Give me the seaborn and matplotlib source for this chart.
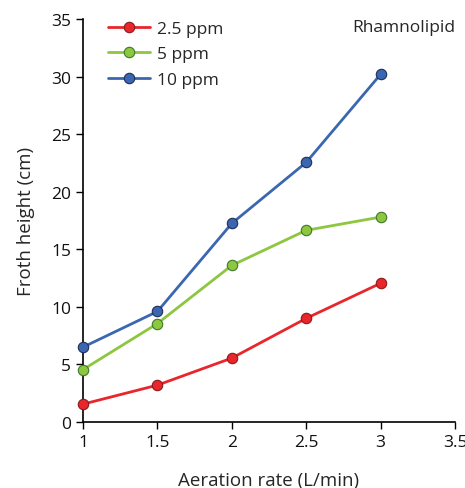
import matplotlib
matplotlib.use('Agg')
import matplotlib.pyplot as plt
import seaborn as sns
import pandas as pd

rate = [1, 1.5, 2, 2.5, 3]
h_25 = [1.55, 3.2, 5.55, 9.0, 12.05]
h_5 = [4.55, 8.55, 13.6, 16.65, 17.8]
h_10 = [6.5, 9.6, 17.25, 22.55, 30.2]
labels = ['2.5 ppm', '5 ppm', '10 ppm']

df = pd.DataFrame({
    'rate': rate * 3,
    'height': h_25 + h_5 + h_10,
    'dose': [labels[0]] * 5 + [labels[1]] * 5 + [labels[2]] * 5,
})

sns.set_style('ticks')
plt.rcParams['font.family'] = ['Open Sans', 'DejaVu Sans']

cores = {'2.5 ppm': '#e8262b', '5 ppm': '#8dc63f', '10 ppm': '#3b67b0'}
bordas = {'2.5 ppm': '#8a1a1a', '5 ppm': '#3d7a2a', '10 ppm': '#1f2f5a'}

fig = plt.figure(figsize=(4.65, 4.89), dpi=100)
ax = fig.add_axes([0.1785, 0.135, 0.8, 0.824])

for d in labels:
    sub = df[df['dose'] == d]
    sns.lineplot(data=sub, x='rate', y='height', ax=ax, color=cores[d], lw=2,
                 marker='o', markersize=7.5, markerfacecolor=cores[d],
                 markeredgecolor=bordas[d], markeredgewidth=0.8, label=d,
                 clip_on=False, zorder=3)

ax.set_xlim(1, 3.5)
ax.set_ylim(0, 35)
ax.set_xticks([1, 1.5, 2, 2.5, 3, 3.5])
ax.set_xticklabels(['1', '1.5', '2', '2.5', '3', '3.5'])
ax.set_yticks(range(0, 36, 5))
ax.tick_params(labelsize=12.5, length=5, width=1, color='black', labelcolor='#111111')
for s in ['left', 'bottom']:
    ax.spines[s].set_linewidth(1.2)
    ax.spines[s].set_color('black')
sns.despine(ax=ax)

ax.set_xlabel('Aeration rate (L/min)', fontsize=13.5, labelpad=15)
ax.set_ylabel('Froth height (cm)', fontsize=13.5, labelpad=12)

ax.text(1.0, 1.0, 'Rhamnolipid', transform=ax.transAxes, ha='right', va='top', fontsize=12.5)

ax.legend(loc='upper left', bbox_to_anchor=(0.025, 1.035), frameon=False, fontsize=12.5,
          handlelength=2.4, handletextpad=0.4, labelspacing=0.55)

plt.savefig('out.png', dpi=100)
